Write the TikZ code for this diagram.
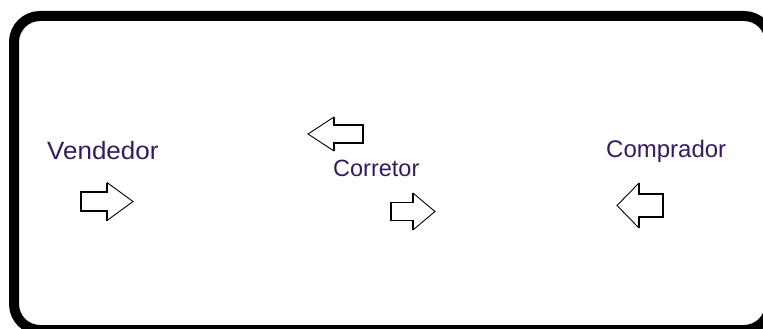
\documentclass[tikz,border=0pt]{standalone}
\usepackage{fontspec}
\setmainfont{Liberation Sans}
\definecolor{labelink}{RGB}{54,26,96}
\tikzset{
  frame/.style={line width=10pt, rounded corners=26pt},
  label text/.style={anchor=base west, inner sep=0pt, text=labelink,
    font=\fontsize{23.5}{28}\selectfont},
  arrow edge/.style={line width=1.5pt, line join=miter},
  arrow slant/.style={line width=0.9pt},
}
% block arrow: #1 name, #2 shaft end x, #3 head base x, #4 tip x,
% #5 centre y, #6 shaft half height, #7 head half height
\newcommand\blockarrow[7]{%
  \fill[white] (#2,#5-#6) -- (#3,#5-#6) -- (#3,#5-#7) -- (#4,#5)
    -- (#3,#5+#7) -- (#3,#5+#6) -- (#2,#5+#6) -- cycle;
  \draw[arrow edge] (#3,#5-#7) -- (#3,#5-#6) -- (#2,#5-#6)
    -- (#2,#5+#6) -- (#3,#5+#6) -- (#3,#5+#7);
  \draw[arrow slant] (#3,#5-#7) -- (#4,#5) -- (#3,#5+#7);
  \coordinate (#1) at (#4,#5);
}
\begin{document}
\begin{tikzpicture}[x=1pt, y=-1pt]
  \useasboundingbox (0,0) rectangle (763,329);
  \fill[white] (0,0) rectangle (763,329);

  % outer frame
  \draw[frame] (14,16) rectangle (770,330);

  % labels
  \node[label text, font=\fontsize{25}{30}\selectfont, xscale=1.04]
    (vendedor) at (47,159) {Vendedor};
  \node[label text] (corretor) at (333,176) {Corretor};
  \node[label text, font=\fontsize{24}{29}\selectfont]
    (comprador) at (606,157) {Comprador};

  % block arrows
  \blockarrow{vendArrow}{81}{107}{133}{201.5}{9.5}{19}
  \blockarrow{corrLeft}{363}{334}{308}{134}{9}{17}
  \blockarrow{corrRight}{391}{413}{435}{211.5}{9}{18.5}
  \blockarrow{compArrow}{663}{639}{617}{205.5}{11.5}{22.5}
\end{tikzpicture}
\end{document}
